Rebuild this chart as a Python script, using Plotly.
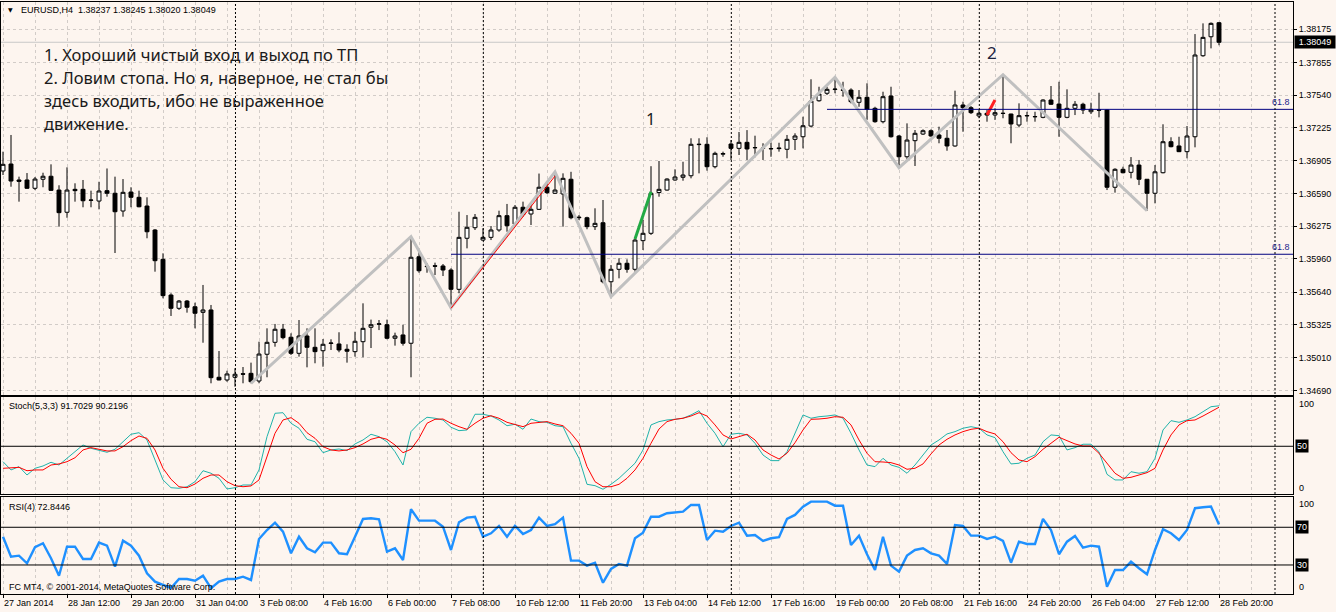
import plotly.graph_objects as go

W, H = 1336, 612
ML, MR, MT, MB = 1, 43, 2, 18
BG = "#FDF5EF"
GRID = "#D2CCC8"

# ---------------- data ----------------
opens = [1.36808,1.36875,1.36721,1.36721,1.36641,1.36728,1.36757,1.36624,1.36410,1.36631,
         1.36631,1.36528,1.36518,1.36618,1.36593,1.36422,1.36605,1.36554,1.36470,1.36239,
         1.35956,1.35612,1.35484,1.35554,1.35499,1.35445,1.35468,1.34819,1.34793,1.34819,
         1.34853,1.34857,1.34783,1.35041,1.35156,1.35282,1.35205,1.35050,1.35217,1.35108,
         1.35075,1.35145,1.35140,1.35089,1.35066,1.35162,1.35301,1.35330,1.35326,1.35195,
         1.35227,1.35147,1.35981,1.35885,1.35894,1.35892,1.35853,1.35667,1.36159,1.36261,
         1.36142,1.36168,1.36239,1.36377,1.36297,1.36458,1.36393,1.36438,1.36651,1.36593,
         1.36586,1.36728,1.36363,1.36357,1.36271,1.36309,1.35740,1.35860,1.35918,1.35860,
         1.36136,1.36207,1.36600,1.36624,1.36721,1.36747,1.36762,1.37062,1.37065,1.36849,
         1.36970,1.37068,1.37026,1.37084,1.37034,1.37026,1.37024,1.37030,1.37017,1.37113,
         1.37138,1.37241,1.37485,1.37557,1.37593,1.37590,1.37588,1.37470,1.37518,1.37412,
         1.37283,1.37531,1.37145,1.36945,1.37100,1.37164,1.37196,1.37155,1.37123,1.37049,
         1.37444,1.37418,1.37338,1.37364,1.37347,1.37362,1.37357,1.37251,1.37339,1.37333,
         1.37325,1.37492,1.37453,1.37325,1.37412,1.37451,1.37379,1.37398,1.37396,1.36651,
         1.36824,1.36795,1.36865,1.36728,1.36593,1.36791,1.37090,1.37049,1.36994,1.37138,
         1.37919,1.38102,1.38237]
highs = [1.36994,1.37155,1.36753,1.36788,1.36750,1.36791,1.36872,1.36670,1.36843,1.36689,
         1.36721,1.36618,1.36704,1.36832,1.36753,1.36730,1.36651,1.36618,1.36554,1.36248,
         1.36014,1.35629,1.35564,1.35564,1.35538,1.35709,1.35516,1.35072,1.34882,1.34906,
         1.34918,1.34960,1.35162,1.35291,1.35333,1.35333,1.35243,1.35371,1.35291,1.35291,
         1.35188,1.35185,1.35253,1.35137,1.35258,1.35532,1.35375,1.35371,1.35375,1.35249,
         1.35326,1.36174,1.36046,1.35918,1.35924,1.35911,1.35870,1.36415,1.36383,1.36393,
         1.36255,1.36277,1.36425,1.36490,1.36480,1.36512,1.36502,1.36783,1.36689,1.36800,
         1.36785,1.36800,1.36383,1.36367,1.36448,1.36528,1.35901,1.35966,1.35956,1.36159,
         1.36335,1.36854,1.36904,1.36737,1.36824,1.36897,1.37123,1.37123,1.37133,1.36994,
         1.36994,1.37106,1.37184,1.37202,1.37148,1.37075,1.37080,1.37080,1.37155,1.37171,
         1.37331,1.37692,1.37620,1.37620,1.37711,1.37668,1.37605,1.37588,1.37653,1.37427,
         1.37572,1.37620,1.37155,1.37267,1.37203,1.37209,1.37209,1.37235,1.37203,1.37582,
         1.37476,1.37434,1.37396,1.37396,1.37412,1.37736,1.37360,1.37460,1.37379,1.37379,
         1.37499,1.37627,1.37668,1.37595,1.37482,1.37466,1.37466,1.37562,1.37402,1.36834,
         1.36849,1.36942,1.36914,1.36730,1.36865,1.37258,1.37133,1.37138,1.37241,1.38128,
         1.38231,1.38240,1.38245]
lows = [1.36769,1.36656,1.36512,1.36634,1.36624,1.36651,1.36618,1.36271,1.36357,1.36512,
        1.36458,1.36458,1.36438,1.36560,1.36017,1.36367,1.36458,1.36458,1.36159,1.35837,
        1.35580,1.35410,1.35468,1.35442,1.35291,1.35152,1.34761,1.34790,1.34776,1.34728,
        1.34761,1.34761,1.34761,1.34819,1.35114,1.35185,1.35034,1.35018,1.34915,1.34954,
        1.34921,1.35082,1.35060,1.34960,1.35018,1.35012,1.35101,1.35274,1.35185,1.35124,
        1.35124,1.34819,1.35827,1.35827,1.35805,1.35795,1.35490,1.35629,1.36062,1.36239,
        1.36136,1.36142,1.36222,1.36222,1.36277,1.36367,1.36287,1.36432,1.36586,1.36586,
        1.36271,1.36342,1.36335,1.36246,1.36239,1.35725,1.35596,1.35773,1.35827,1.35837,
        1.36046,1.36191,1.36560,1.36618,1.36714,1.36714,1.36737,1.36785,1.36811,1.36833,
        1.36945,1.36914,1.36962,1.36914,1.36940,1.36914,1.36945,1.36994,1.36930,1.37010,
        1.37026,1.37229,1.37476,1.37540,1.37557,1.37524,1.37460,1.37427,1.37300,1.37273,
        1.37267,1.37130,1.36840,1.36920,1.36856,1.37155,1.37138,1.37075,1.37003,1.37042,
        1.37186,1.37357,1.37316,1.37283,1.37300,1.37316,1.37075,1.37229,1.37283,1.37283,
        1.37316,1.37444,1.37138,1.37316,1.37347,1.37357,1.37357,1.37325,1.36624,1.36599,
        1.36785,1.36737,1.36672,1.36425,1.36496,1.36785,1.37036,1.36990,1.36930,1.37036,
        1.37909,1.37990,1.38020]
closes = [1.36872,1.36711,1.36708,1.36641,1.36730,1.36757,1.36621,1.36406,1.36624,1.36618,
          1.36521,1.36526,1.36615,1.36593,1.36415,1.36602,1.36554,1.36463,1.36222,1.35943,
          1.35606,1.35484,1.35554,1.35494,1.35436,1.35468,1.34815,1.34793,1.34851,1.34848,
          1.34849,1.34776,1.35043,1.35156,1.35282,1.35201,1.35050,1.35217,1.35108,1.35066,
          1.35137,1.35149,1.35082,1.35070,1.35166,1.35291,1.35326,1.35334,1.35195,1.35217,
          1.35147,1.35976,1.35846,1.35889,1.35890,1.35853,1.35667,1.36168,1.36265,1.36361,
          1.36168,1.36239,1.36377,1.36280,1.36458,1.36390,1.36438,1.36651,1.36599,1.36624,
          1.36737,1.36357,1.36358,1.36271,1.36303,1.35740,1.35860,1.35918,1.35860,1.36142,
          1.36207,1.36593,1.36631,1.36730,1.36750,1.36769,1.37065,1.37065,1.36849,1.36978,
          1.36975,1.37026,1.37084,1.37020,1.37032,1.37028,1.37022,1.37024,1.37113,1.37145,
          1.37244,1.37482,1.37550,1.37595,1.37597,1.37586,1.37476,1.37518,1.37402,1.37283,
          1.37524,1.37138,1.36945,1.37106,1.37171,1.37196,1.37145,1.37123,1.37049,1.37444,
          1.37418,1.37370,1.37364,1.37347,1.37370,1.37364,1.37261,1.37341,1.37342,1.37331,
          1.37492,1.37451,1.37325,1.37412,1.37451,1.37396,1.37402,1.37394,1.36651,1.36824,
          1.36791,1.36865,1.36728,1.36593,1.36800,1.37090,1.37042,1.36994,1.37145,1.37926,
          1.38096,1.38231,1.38049]

stoch_k = [34.1,25.6,29.0,20.4,27.3,29.7,33.5,30.7,37.6,44.4,51.3,47.9,46.2,43.8,46.9,54.7,62.4,64.0,56.5,35.9,
           15.3,7.3,6.7,8.3,13.5,24.8,22.2,17.0,6.0,7.3,10.1,10.1,25.6,59.9,84.0,84.6,73.7,68.6,57.2,54.7,
           43.4,46.2,47.2,45.5,52.4,56.5,62.4,59.9,54.7,44.4,30.7,65.1,73.7,79.9,78.9,77.1,69.6,66.1,66.8,83.0,
           83.0,81.2,77.1,71.2,72.7,67.5,78.1,75.4,74.7,71.2,70.2,53.1,37.6,10.8,9.4,5.7,10.8,17.0,24.5,32.5,
           46.2,72.0,75.4,77.1,77.8,78.9,82.3,86.7,73.7,63.4,49.6,62.4,63.4,61.7,53.1,41.0,35.2,35.2,44.4,63.4,
           82.3,78.9,80.5,81.2,82.3,78.9,63.4,46.2,30.7,29.0,37.6,30.7,28.3,22.2,30.7,41.0,51.3,56.5,62.7,65.1,
           68.6,70.2,68.6,61.7,58.9,44.4,31.8,32.5,37.6,41.0,54.7,61.7,60.9,46.2,48.6,52.1,52.1,44.4,21.1,15.3,
           15.3,23.8,22.2,23.8,37.6,66.8,76.4,74.7,77.1,80.5,85.7,90.8,91.7029]
stoch_d = [27.3,27.9,28.3,24.8,25.6,25.6,30.7,31.8,34.1,38.2,46.2,48.6,47.2,45.2,45.2,49.6,55.8,60.6,58.2,46.2,
           27.3,16.0,8.3,7.3,11.1,17.0,20.4,20.4,13.5,9.4,8.3,9.1,15.3,39.3,63.4,77.1,79.5,73.7,64.0,58.2,
           49.6,46.2,45.2,46.2,48.6,52.4,57.2,59.3,57.2,51.3,43.4,46.9,58.2,73.7,77.8,78.1,73.7,70.2,67.5,73.7,
           78.9,81.5,78.9,74.7,72.7,70.2,73.7,74.3,75.4,73.0,71.2,63.4,53.1,29.0,13.5,8.3,8.3,10.8,17.0,25.6,
           37.6,53.1,67.8,75.4,77.8,78.9,81.2,84.6,81.2,72.0,61.7,57.5,59.9,62.4,56.5,46.2,41.0,36.9,42.8,53.7,
           66.8,77.8,78.1,78.9,80.5,79.9,72.0,56.5,42.8,34.1,33.8,33.1,30.7,26.3,27.3,31.8,42.1,51.3,57.2,61.7,
           65.1,67.5,68.6,65.1,62.7,54.7,43.4,35.9,34.1,39.3,46.9,53.1,59.3,55.8,52.4,50.3,50.3,42.8,32.5,22.2,
           17.0,18.0,20.4,22.8,27.3,46.2,61.7,72.0,76.4,77.1,81.2,85.7,90.2196]
rsi = [60.0,38.8,39.9,31.8,48.8,53.0,37.1,18.6,49.4,49.4,36.4,36.4,53.7,50.5,28.2,55.8,50.5,39.9,21.2,12.3,
       8.8,5.6,15.1,15.1,13.3,18.6,5.3,12.3,15.1,15.1,17.6,14.1,57.6,67.1,74.9,65.3,42.4,60.0,47.7,43.5,
       53.7,53.7,42.4,41.4,60.0,78.8,79.5,78.5,44.1,47.7,35.3,89.1,77.0,77.0,77.0,70.6,45.9,75.3,80.2,81.2,
       60.0,63.6,71.4,60.0,71.4,62.9,67.1,80.2,71.4,73.2,80.2,34.6,34.6,29.3,32.4,11.2,25.8,31.1,29.3,58.3,
       64.3,81.2,81.2,84.9,85.9,86.6,93.7,93.7,56.5,66.4,65.3,71.4,74.9,61.1,61.8,55.5,58.3,59.4,78.8,83.1,
       91.9,97.2,97.2,97.2,92.9,92.9,51.2,61.1,41.4,24.7,60.0,29.3,22.9,39.9,45.9,47.7,42.4,39.9,31.1,72.4,
       71.4,61.1,61.1,57.6,60.0,55.5,32.4,54.7,52.3,52.3,78.8,67.1,41.4,54.7,60.8,48.4,50.5,49.4,7.0,24.7,
       24.7,33.5,26.5,20.1,45.9,67.9,63.6,56.5,67.1,90.2,91.2,91.9,72.8446]

x_labels = ["27 Jan 2014", "28 Jan 12:00", "29 Jan 20:00", "31 Jan 04:00", "3 Feb 08:00",
            "4 Feb 16:00", "6 Feb 00:00", "7 Feb 08:00", "10 Feb 12:00", "11 Feb 20:00",
            "13 Feb 04:00", "14 Feb 12:00", "17 Feb 16:00", "19 Feb 00:00", "20 Feb 08:00",
            "21 Feb 16:00", "24 Feb 20:00", "26 Feb 04:00", "27 Feb 12:00", "28 Feb 20:00"]
label_step = 8
price_ticks = [1.34690, 1.35010, 1.35325, 1.35640, 1.35960, 1.36275,
               1.36590, 1.36905, 1.37225, 1.37540, 1.37855, 1.38175]

# zigzag and drawn objects
zz_idx = [31, 51, 56, 69, 76, 104, 112, 125, 143]
zz_price = [1.34761, 1.36174, 1.35490, 1.36800, 1.35596, 1.37711, 1.36840, 1.37736, 1.36425]
red_trend_idx = [56, 69]
red_trend_price = [1.35484, 1.36759]
green_idx = [79, 81]
green_price = [1.36152, 1.36608]
red_short_idx = [123, 124]
red_short_price = [1.37348, 1.37492]
fib_start_idx = [56, 103]
fib_price = [1.36005, 1.37402]
separator_idx = [29.06, 60.04, 91.04, 122.04, 159.0]

bars = list(range(len(opens)))
x_range = [-0.25, 161.25]
y_range = [1.34651, 1.38437]
stoch_range = [0.5, 101.1]
rsi_range = [-0.8, 101.8]

PH = H - MT - MB
PW = W - ML - MR


def fy(py):
    return (H - MB - py) / PH


def fx(px):
    return (px - ML) / PW


dom_main = [fy(394.7), 1.0]
dom_stoch = [fy(494.3), fy(396.7)]
dom_rsi = [0.0, fy(497.3)]

fig = go.Figure()

fig.add_trace(go.Candlestick(
    x=bars, open=opens, high=highs, low=lows, close=closes,
    increasing=dict(line=dict(color="black", width=1), fillcolor="white"),
    decreasing=dict(line=dict(color="black", width=1), fillcolor="black"),
    whiskerwidth=0, hoverinfo="skip", xaxis="x", yaxis="y"))

fig.add_trace(go.Scatter(x=zz_idx, y=zz_price, mode="lines",
                         line=dict(color="#C0C0C0", width=3), xaxis="x", yaxis="y"))
fig.add_trace(go.Scatter(x=red_trend_idx, y=red_trend_price, mode="lines",
                         line=dict(color="#FF0000", width=1), xaxis="x", yaxis="y"))
fig.add_trace(go.Scatter(x=green_idx, y=green_price, mode="lines",
                         line=dict(color="#22AA44", width=3), xaxis="x", yaxis="y"))
fig.add_trace(go.Scatter(x=red_short_idx, y=red_short_price, mode="lines",
                         line=dict(color="#FF2020", width=3), xaxis="x", yaxis="y"))
for s, p in zip(fib_start_idx, fib_price):
    fig.add_trace(go.Scatter(x=[s, x_range[1]], y=[p, p], mode="lines",
                             line=dict(color="#000080", width=1), xaxis="x", yaxis="y"))

fig.add_trace(go.Scatter(x=bars, y=stoch_k, mode="lines",
                         line=dict(color="#20B2AA", width=1), xaxis="x2", yaxis="y2"))
fig.add_trace(go.Scatter(x=bars, y=stoch_d, mode="lines",
                         line=dict(color="#FF0000", width=1), xaxis="x2", yaxis="y2"))
fig.add_trace(go.Scatter(x=bars, y=rsi, mode="lines",
                         line=dict(color="#1E90FF", width=2.4), xaxis="x3", yaxis="y3"))

axfont = dict(family="Liberation Sans, Arial, sans-serif", size=9, color="black")
label_idx = [i * label_step for i in range(len(x_labels))]
minor_idx = [i + label_step // 2 for i in label_idx]

common_x = dict(range=x_range, showline=True, mirror=True, linecolor="black", linewidth=1,
                showgrid=True, gridcolor=GRID, griddash="3px,3px", gridwidth=1,
                tickmode="array", tickvals=label_idx, zeroline=False, fixedrange=True,
                minor=dict(tickmode="array", tickvals=minor_idx, showgrid=True,
                           gridcolor=GRID, griddash="3px,3px", ticks=""))

fig.update_layout(
    width=W, height=H, margin=dict(l=ML, r=MR, t=MT, b=MB),
    paper_bgcolor=BG, plot_bgcolor=BG, showlegend=False, hovermode=False,
    font=axfont,
    xaxis=dict(**common_x, domain=[0, 1], anchor="y", showticklabels=False, ticks="",
               rangeslider=dict(visible=False)),
    xaxis2=dict(**common_x, domain=[0, 1], anchor="y2", matches="x",
                showticklabels=False, ticks=""),
    xaxis3=dict(**common_x, domain=[0, 1], anchor="y3", matches="x",
                ticktext=x_labels, showticklabels=True, ticks="outside", ticklen=3,
                tickcolor="black", ticklabelposition="outside right", tickfont=axfont),
    yaxis=dict(domain=dom_main, anchor="x", side="right", range=y_range,
               tickmode="array", tickvals=price_ticks,
               ticktext=["%.5f" % v for v in price_ticks],
               ticks="outside", ticklen=3, tickcolor="black", tickfont=axfont,
               showgrid=True, gridcolor=GRID, griddash="3px,3px",
               showline=True, mirror=True, linecolor="black", zeroline=False, fixedrange=True),
    yaxis2=dict(domain=dom_stoch, anchor="x2", side="right", range=stoch_range,
                showticklabels=False, ticks="", showgrid=False, zeroline=False,
                showline=True, mirror=True, linecolor="black", fixedrange=True),
    yaxis3=dict(domain=dom_rsi, anchor="x3", side="right", range=rsi_range,
                showticklabels=False, ticks="", showgrid=False, zeroline=False,
                showline=True, mirror=True, linecolor="black", fixedrange=True),
)

shapes = []
# bid line
shapes.append(dict(type="line", xref="x domain", x0=0, x1=1, yref="y",
                   y0=closes[-1], y1=closes[-1], line=dict(color="#C8C8C8", width=1),
                   layer="below"))
# indicator levels
shapes.append(dict(type="line", xref="x2 domain", x0=0, x1=1, yref="y2", y0=50, y1=50,
                   line=dict(color="black", width=1)))
for lv in (70, 30):
    shapes.append(dict(type="line", xref="x3 domain", x0=0, x1=1, yref="y3", y0=lv, y1=lv,
                       line=dict(color="black", width=1)))
# period separators
for s in separator_idx:
    shapes.append(dict(type="line", xref="x", x0=s, x1=s, yref="paper", y0=0, y1=1,
                       line=dict(color="black", width=1, dash="2px,2px")))
fig.update_layout(shapes=shapes)

ann = []
TXT = "#1A1A1A"
big = dict(family="Noto Sans, Open Sans, sans-serif", size=16.5, color=TXT)
lines = ["1. Хороший чистый вход и выход по ТП",
         "2. Ловим стопа. Но я, наверное, не стал бы",
         "здесь входить, ибо не выраженное",
         "движение."]
for t, py in zip(lines, [54.5, 77.7, 100.7, 123.7]):
    ann.append(dict(text=t, x=fx(42), y=fy(py), xref="paper", yref="paper",
                    xanchor="left", yanchor="middle", showarrow=False, font=big))
ann.append(dict(text="1", x=fx(650), y=fy(119), xref="paper", yref="paper",
                xanchor="center", yanchor="middle", showarrow=False, font=big))
ann.append(dict(text="2", x=fx(992), y=fy(52.5), xref="paper", yref="paper",
                xanchor="center", yanchor="middle", showarrow=False,
                font=dict(family="Noto Sans, sans-serif", size=17, color="#1C2340")))

small = dict(family="Liberation Sans, Arial, sans-serif", size=9, color="black")
ann.append(dict(text="▼", x=fx(6), y=fy(10), xref="paper", yref="paper",
                xanchor="left", yanchor="middle", showarrow=False,
                font=dict(family="DejaVu Sans", size=6, color="black")))
ann.append(dict(text="EURUSD,H4\u00a0\u00a01.38237 1.38245 1.38020 1.38049",
                x=fx(19), y=fy(10), xref="paper", yref="paper",
                xanchor="left", yanchor="middle", showarrow=False, font=small))
ann.append(dict(text="Stoch(5,3,3) 91.7029 90.2196", x=fx(7), y=fy(406.5),
                xref="paper", yref="paper", xanchor="left", yanchor="middle",
                showarrow=False, font=small))
ann.append(dict(text="RSI(4) 72.8446", x=fx(7), y=fy(507), xref="paper", yref="paper",
                xanchor="left", yanchor="middle", showarrow=False, font=small))
ann.append(dict(text="FC MT4, © 2001-2014, MetaQuotes Software Corp.", x=fx(7), y=fy(587),
                xref="paper", yref="paper", xanchor="left", yanchor="middle",
                showarrow=False, font=small))

navy = dict(family="Liberation Sans, Arial, sans-serif", size=9, color="#1E1E8C")
for p in fib_price:
    ann.append(dict(text="61.8", x=fx(1292), y=p, xref="paper", yref="y",
                    xanchor="right", yanchor="bottom", yshift=0, showarrow=False, font=navy))

# right-side labels
ann.append(dict(text=f"{closes[-1]:.5f}", x=fx(1294), y=closes[-1], xref="paper", yref="y",
                xanchor="left", yanchor="middle", showarrow=False, bgcolor="black",
                borderpad=1, width=38,
                font=dict(family="Liberation Sans, Arial, sans-serif", size=9, color="white")))
for v in (100, 0):
    ann.append(dict(text=str(v), x=fx(1297), y=fy(404.3 if v == 100 else 488.3),
                    xref="paper", yref="paper", xanchor="left", yanchor="middle",
                    showarrow=False, font=small))
ann.append(dict(text="50", x=fx(1295), y=50, xref="paper", yref="y2",
                xanchor="left", yanchor="middle", showarrow=False, bgcolor="black",
                borderpad=1, font=dict(family="Liberation Sans, Arial", size=9, color="white")))
for v, py in ((100, 504.3), (0, 587.3)):
    ann.append(dict(text=str(v), x=fx(1297), y=fy(py), xref="paper", yref="paper",
                    xanchor="left", yanchor="middle", showarrow=False, font=small))
for lv in (70, 30):
    ann.append(dict(text=str(lv), x=fx(1295), y=lv, xref="paper", yref="y3",
                    xanchor="left", yanchor="middle", showarrow=False, bgcolor="black",
                    borderpad=1, font=dict(family="Liberation Sans, Arial", size=9, color="white")))
fig.update_layout(annotations=ann)

fig.write_html("out.html")
